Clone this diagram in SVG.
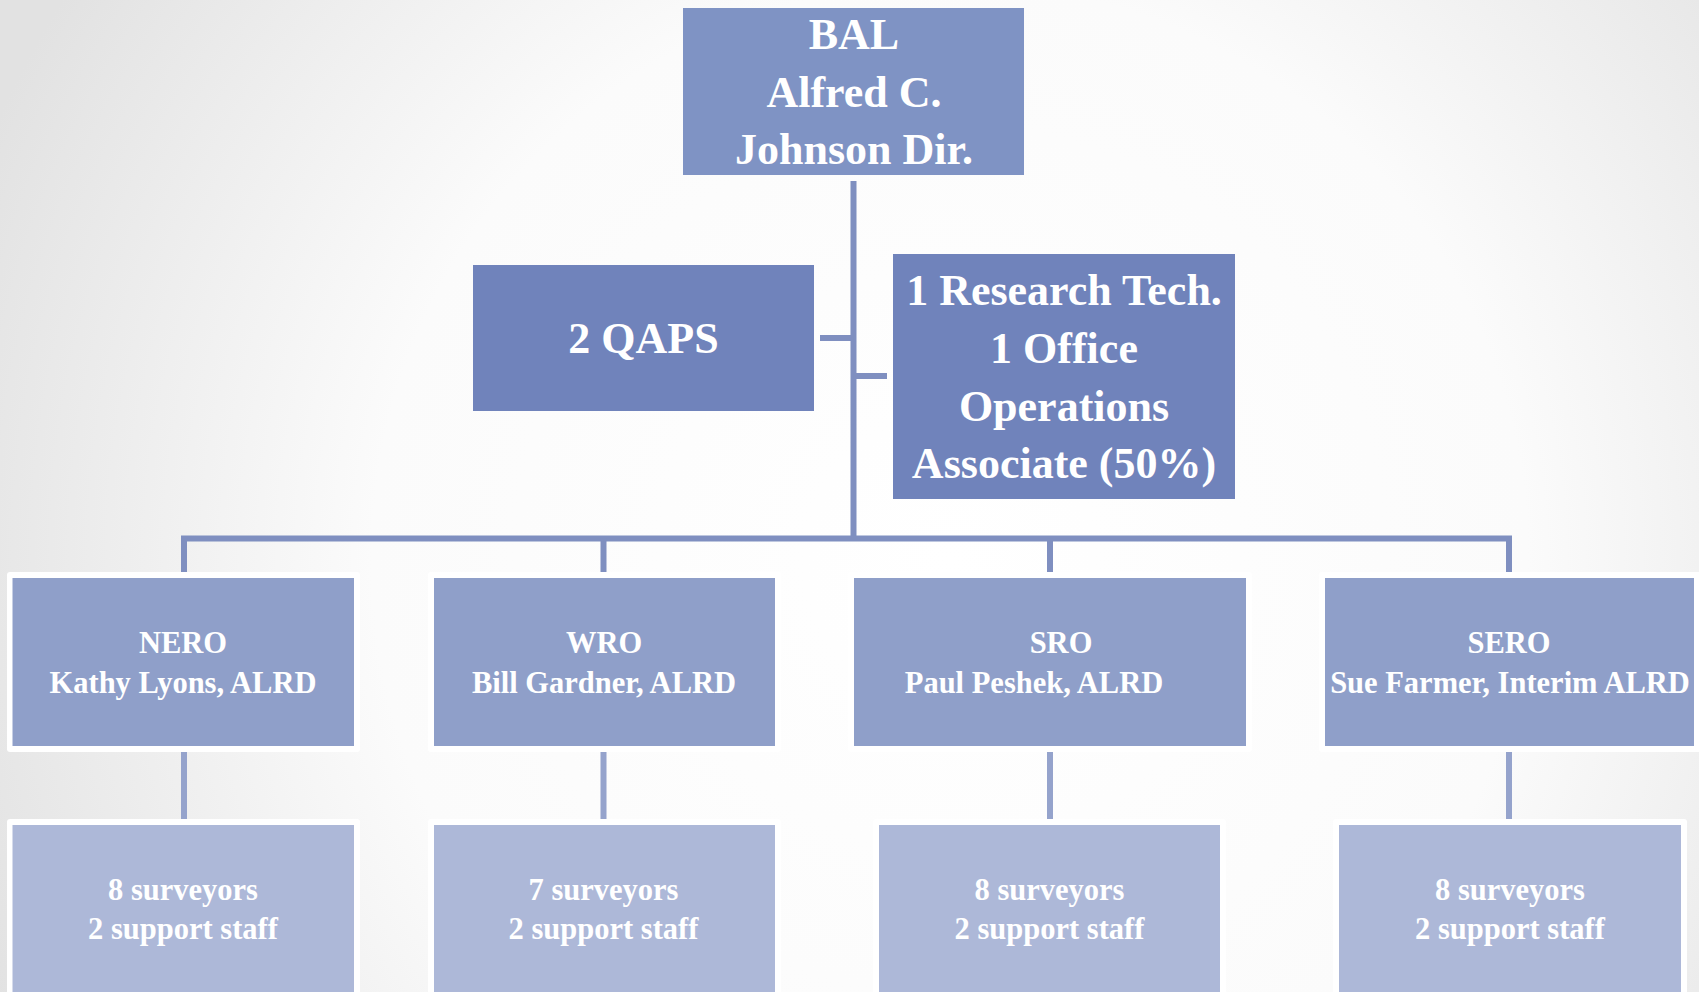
<svg xmlns="http://www.w3.org/2000/svg" width="1699" height="992" viewBox="0 0 1699 992">
<style>
.t{font-family:"Liberation Serif","DejaVu Serif",serif;fill:#ffffff;font-weight:bold;text-anchor:middle}
.big{font-size:44px}
.mid{font-size:30.5px}
.top{fill:#7F93C4}
.staff{fill:#7083BB}
.reg{fill:#8F9FC9}
.cnt{fill:#ADB8D8}
.back{fill:#ffffff}
.c1{stroke:#7F8FC0;stroke-width:6;fill:none}
.c2{stroke:#95A3CC;stroke-width:6;fill:none}
</style>
<defs>
<radialGradient id="bg" cx="950" cy="560" r="1050" gradientUnits="userSpaceOnUse">
<stop offset="0" stop-color="#ffffff"/>
<stop offset="0.55" stop-color="#fbfbfb"/>
<stop offset="1" stop-color="#e2e2e2"/>
</radialGradient>
</defs>
<rect x="0" y="0" width="1699" height="992" fill="url(#bg)"/>

<g id="connectors">
<path class="c1" d="M853.5 181 V538.5"/>
<path class="c1" d="M820 338 H853.5"/>
<path class="c1" d="M853.5 376 H887"/>
<path class="c1" d="M184 572 V538.5 H1509 V572"/>
<path class="c1" d="M603.5 538.5 V572"/>
<path class="c1" d="M1050 538.5 V572"/>
<path class="c2" d="M184 752 V819"/>
<path class="c2" d="M603.5 752 V819"/>
<path class="c2" d="M1050 752 V819"/>
<path class="c2" d="M1509 752 V819"/>
</g>

<g id="bal">
<rect class="top" x="683" y="8" width="341" height="167"/>
<text class="t big" x="854" y="49">BAL</text>
<text class="t big" x="854" y="107">Alfred C.</text>
<text class="t big" x="854" y="164">Johnson Dir.</text>
</g>

<g id="qaps">
<rect class="staff" x="473" y="265" width="341" height="146"/>
<text class="t big" x="643.5" y="353">2 QAPS</text>
</g>

<g id="research">
<rect class="staff" x="893" y="254" width="342" height="245"/>
<text class="t big" x="1064" y="305">1 Research Tech.</text>
<text class="t big" x="1064" y="363">1 Office</text>
<text class="t big" x="1064" y="421">Operations</text>
<text class="t big" x="1064" y="478">Associate (50%)</text>
</g>

<g id="nero">
<rect class="back" x="7" y="572" width="353" height="180" rx="3"/>
<rect class="reg" x="12.5" y="578" width="341.5" height="168"/>
<text class="t mid" x="183" y="653">NERO</text>
<text class="t mid" x="183" y="693">Kathy Lyons, ALRD</text>
</g>

<g id="wro">
<rect class="back" x="428" y="572" width="353" height="180" rx="3"/>
<rect class="reg" x="434" y="578" width="341" height="168"/>
<text class="t mid" x="604" y="653">WRO</text>
<text class="t mid" x="604" y="693">Bill Gardner, ALRD</text>
</g>

<g id="sro">
<rect class="back" x="848" y="572" width="404" height="180" rx="3"/>
<rect class="reg" x="854" y="578" width="392" height="168"/>
<text class="t mid" x="1061" y="653">SRO</text>
<text class="t mid" x="1034" y="693">Paul Peshek, ALRD</text>
</g>

<g id="sero">
<rect class="back" x="1319" y="572" width="385" height="180" rx="3"/>
<rect class="reg" x="1325" y="578" width="369" height="168"/>
<text class="t mid" x="1509" y="653">SERO</text>
<text class="t mid" x="1510" y="693">Sue Farmer, Interim ALRD</text>
</g>

<g id="nero-staff">
<rect class="back" x="7" y="819" width="353" height="180" rx="3"/>
<rect class="cnt" x="12.5" y="825" width="341.5" height="170"/>
<text class="t mid" x="183" y="900">8 surveyors</text>
<text class="t mid" x="183" y="939">2 support staff</text>
</g>

<g id="wro-staff">
<rect class="back" x="428" y="819" width="353" height="180" rx="3"/>
<rect class="cnt" x="434" y="825" width="341" height="170"/>
<text class="t mid" x="603.5" y="900">7 surveyors</text>
<text class="t mid" x="603.5" y="939">2 support staff</text>
</g>

<g id="sro-staff">
<rect class="back" x="873" y="819" width="353" height="180" rx="3"/>
<rect class="cnt" x="879" y="825" width="341" height="170"/>
<text class="t mid" x="1049.5" y="900">8 surveyors</text>
<text class="t mid" x="1049.5" y="939">2 support staff</text>
</g>

<g id="sero-staff">
<rect class="back" x="1333" y="819" width="354" height="180" rx="3"/>
<rect class="cnt" x="1339" y="825" width="342" height="170"/>
<text class="t mid" x="1510" y="900">8 surveyors</text>
<text class="t mid" x="1510" y="939">2 support staff</text>
</g>
</svg>
